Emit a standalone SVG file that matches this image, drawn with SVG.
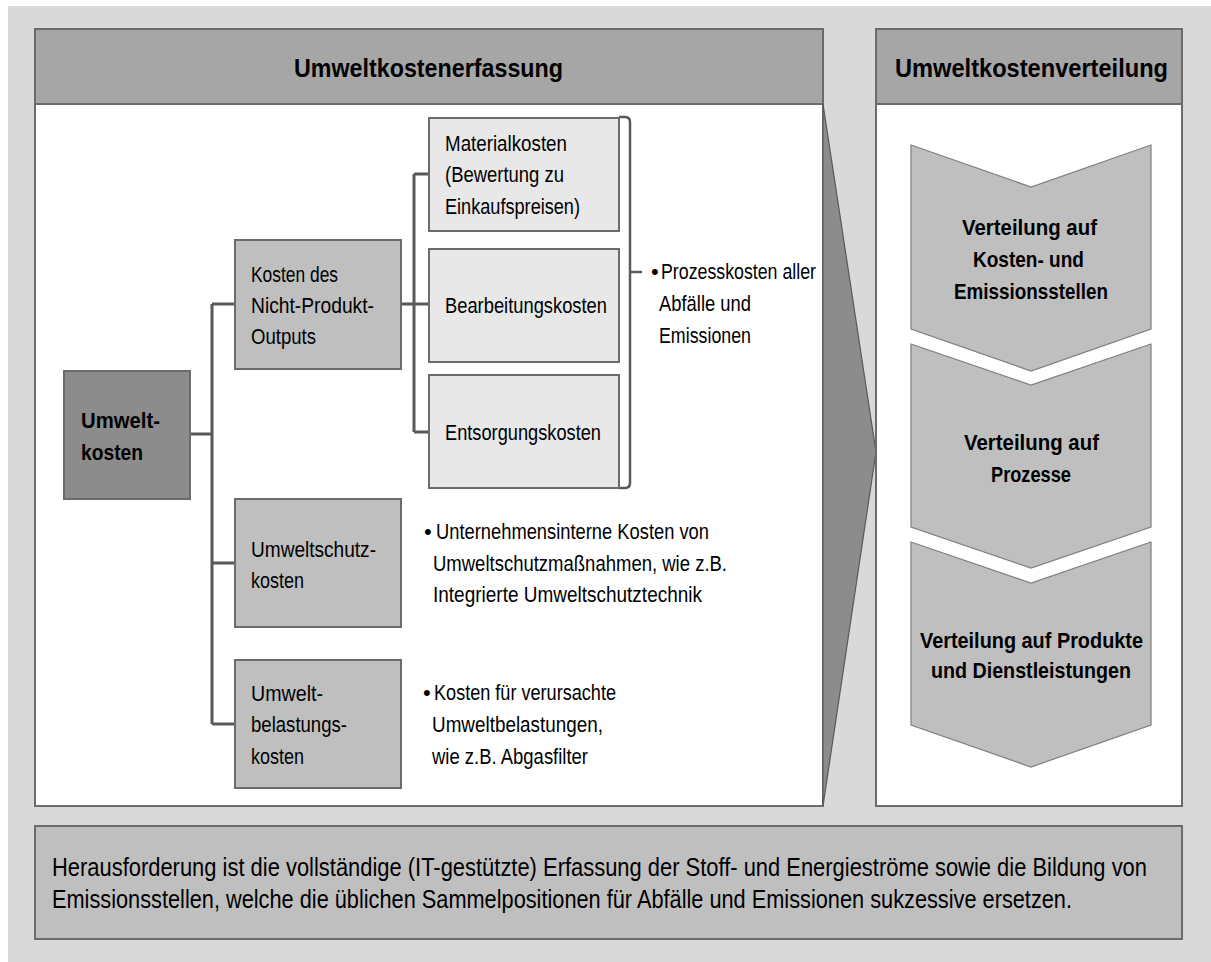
<svg xmlns="http://www.w3.org/2000/svg" width="1211" height="962" viewBox="0 0 1211 962">
  <style>
    .panel { fill: #ffffff; stroke: #6b6b6b; stroke-width: 2; }
    .head { fill: #a6a6a6; stroke: #6b6b6b; stroke-width: 2; }
    .root { fill: #8c8c8c; stroke: #6b6b6b; stroke-width: 2; }
    .mid { fill: #bfbfbf; stroke: #6b6b6b; stroke-width: 2; }
    .light { fill: #e8e8e8; stroke: #6b6b6b; stroke-width: 2; }
    .chev { fill: #bfbfbf; stroke: #7f7f7f; stroke-width: 1.2; }
    .link { fill: none; stroke: #595959; stroke-width: 3; }
    .brace { fill: none; stroke: #595959; stroke-width: 2.5; }
    text { font-family: "Liberation Sans", Arial, sans-serif; fill: #000; }
    .t { font-size: 22px; }
    .b { font-size: 22px; font-weight: bold; }
    .h { font-size: 25px; font-weight: bold; }
    .note { font-size: 25px; }
  </style>

  <!-- backdrop -->
  <rect x="8" y="6" width="1203" height="956" fill="#d9d9d9"/>

  <!-- left panel: cost capture -->
  <g id="panel-erfassung">
    <rect class="panel" x="35" y="104" width="788" height="702"/>
    <rect class="head" x="35" y="29" width="788" height="75"/>
    <text class="h" x="294" y="77" textLength="269" lengthAdjust="spacingAndGlyphs">Umweltkostenerfassung</text>
  </g>

  <!-- funnel wedge between panels -->
  <g id="funnel">
    <polygon points="823,104 876,452 823,806" fill="#8c8c8c" stroke="#595959" stroke-width="1.2"/>
  </g>

  <!-- right panel: cost distribution -->
  <g id="panel-verteilung">
    <rect class="panel" x="876" y="104" width="306" height="702"/>
    <rect class="head" x="876" y="29" width="306" height="75"/>
    <text class="h" x="895" y="77" textLength="273" lengthAdjust="spacingAndGlyphs">Umweltkostenverteilung</text>
  </g>

  <!-- tree connectors -->
  <g id="connectors">
    <path class="link" d="M190,434 H212 M212,304 V724 M212,304 H235 M212,563 H235 M212,724 H235"/>
    <path class="link" d="M401,304 H414 M414,174 V432 M414,174 H429 M414,304 H429 M414,432 H429"/>
    <path class="brace" d="M619,117 H625 Q630,117 630,122 V483 Q630,488 625,488 H619 M630,272 H642"/>
  </g>

  <g id="node-umweltkosten">
    <rect class="root" x="64" y="371" width="126" height="128"/>
    <text class="b" x="81" y="428" textLength="79" lengthAdjust="spacingAndGlyphs">Umwelt-</text>
    <text class="b" x="81" y="460" textLength="62" lengthAdjust="spacingAndGlyphs">kosten</text>
  </g>

  <g id="node-nicht-produkt">
    <rect class="mid" x="235" y="240" width="166" height="129"/>
    <text class="t" x="251" y="282" textLength="87" lengthAdjust="spacingAndGlyphs">Kosten des</text>
    <text class="t" x="251" y="313" textLength="123" lengthAdjust="spacingAndGlyphs">Nicht-Produkt-</text>
    <text class="t" x="251" y="344" textLength="65" lengthAdjust="spacingAndGlyphs">Outputs</text>
  </g>

  <g id="node-material">
    <rect class="light" x="429" y="118" width="190" height="113"/>
    <text class="t" x="445" y="151" textLength="122" lengthAdjust="spacingAndGlyphs">Materialkosten</text>
    <text class="t" x="445" y="182" textLength="119" lengthAdjust="spacingAndGlyphs">(Bewertung zu</text>
    <text class="t" x="445" y="214" textLength="135" lengthAdjust="spacingAndGlyphs">Einkaufspreisen)</text>
  </g>

  <g id="node-bearbeitung">
    <rect class="light" x="429" y="249" width="190" height="113"/>
    <text class="t" x="445" y="313" textLength="162" lengthAdjust="spacingAndGlyphs">Bearbeitungskosten</text>
  </g>

  <g id="node-entsorgung">
    <rect class="light" x="429" y="375" width="190" height="113"/>
    <text class="t" x="445" y="440" textLength="156" lengthAdjust="spacingAndGlyphs">Entsorgungskosten</text>
  </g>

  <g id="note-prozesskosten">
    <text class="t" x="651" y="279">•</text>
    <text class="t" x="661" y="279" textLength="155" lengthAdjust="spacingAndGlyphs">Prozesskosten aller</text>
    <text class="t" x="659" y="311" textLength="92" lengthAdjust="spacingAndGlyphs">Abfälle und</text>
    <text class="t" x="659" y="343" textLength="92" lengthAdjust="spacingAndGlyphs">Emissionen</text>
  </g>

  <g id="node-umweltschutz">
    <rect class="mid" x="235" y="499" width="166" height="128"/>
    <text class="t" x="251" y="557" textLength="125" lengthAdjust="spacingAndGlyphs">Umweltschutz-</text>
    <text class="t" x="251" y="588" textLength="53" lengthAdjust="spacingAndGlyphs">kosten</text>
  </g>

  <g id="note-umweltschutz">
    <text class="t" x="424" y="539">•</text>
    <text class="t" x="436" y="539" textLength="273" lengthAdjust="spacingAndGlyphs">Unternehmensinterne Kosten von</text>
    <text class="t" x="433" y="571" textLength="294" lengthAdjust="spacingAndGlyphs">Umweltschutzmaßnahmen, wie z.B.</text>
    <text class="t" x="433" y="602" textLength="269" lengthAdjust="spacingAndGlyphs">Integrierte Umweltschutztechnik</text>
  </g>

  <g id="node-umweltbelastung">
    <rect class="mid" x="235" y="660" width="166" height="128"/>
    <text class="t" x="251" y="701" textLength="72" lengthAdjust="spacingAndGlyphs">Umwelt-</text>
    <text class="t" x="251" y="732" textLength="96" lengthAdjust="spacingAndGlyphs">belastungs-</text>
    <text class="t" x="251" y="764" textLength="53" lengthAdjust="spacingAndGlyphs">kosten</text>
  </g>

  <g id="note-umweltbelastung">
    <text class="t" x="423" y="700">•</text>
    <text class="t" x="434" y="700" textLength="182" lengthAdjust="spacingAndGlyphs">Kosten für verursachte</text>
    <text class="t" x="432" y="732" textLength="171" lengthAdjust="spacingAndGlyphs">Umweltbelastungen,</text>
    <text class="t" x="432" y="764" textLength="156" lengthAdjust="spacingAndGlyphs">wie z.B. Abgasfilter</text>
  </g>

  <!-- distribution steps -->
  <g id="step-stellen">
    <polygon class="chev" points="911,145 1031,187 1151,145 1151,329 1031,371 911,329"/>
    <text class="b" x="962" y="235" textLength="135" lengthAdjust="spacingAndGlyphs">Verteilung auf</text>
    <text class="b" x="973" y="267" textLength="111" lengthAdjust="spacingAndGlyphs">Kosten- und</text>
    <text class="b" x="954" y="299" textLength="154" lengthAdjust="spacingAndGlyphs">Emissionsstellen</text>
  </g>

  <g id="step-prozesse">
    <polygon class="chev" points="911,344 1031,385 1151,344 1151,527 1031,568 911,527"/>
    <text class="b" x="964" y="450" textLength="135" lengthAdjust="spacingAndGlyphs">Verteilung auf</text>
    <text class="b" x="991" y="482" textLength="80" lengthAdjust="spacingAndGlyphs">Prozesse</text>
  </g>

  <g id="step-produkte">
    <polygon class="chev" points="911,542 1031,583 1151,542 1151,725 1031,767 911,725"/>
    <text class="b" x="920" y="648" textLength="223" lengthAdjust="spacingAndGlyphs">Verteilung auf Produkte</text>
    <text class="b" x="931" y="678" textLength="200" lengthAdjust="spacingAndGlyphs">und Dienstleistungen</text>
  </g>

  <!-- bottom remark: condensed horizontally to fit the box -->
  <g id="remark">
    <rect class="mid" x="35" y="826" width="1147" height="113"/>
    <g transform="translate(52,0) scale(0.87,1)">
      <text class="note" x="0" y="876" textLength="1258.6" lengthAdjust="spacingAndGlyphs">Herausforderung ist die vollständige (IT-gestützte) Erfassung der Stoff- und Energieströme sowie die Bildung von</text>
      <text class="note" x="0" y="908" textLength="1172.4" lengthAdjust="spacingAndGlyphs">Emissionsstellen, welche die üblichen Sammelpositionen für Abfälle und Emissionen sukzessive ersetzen.</text>
    </g>
  </g>
</svg>
